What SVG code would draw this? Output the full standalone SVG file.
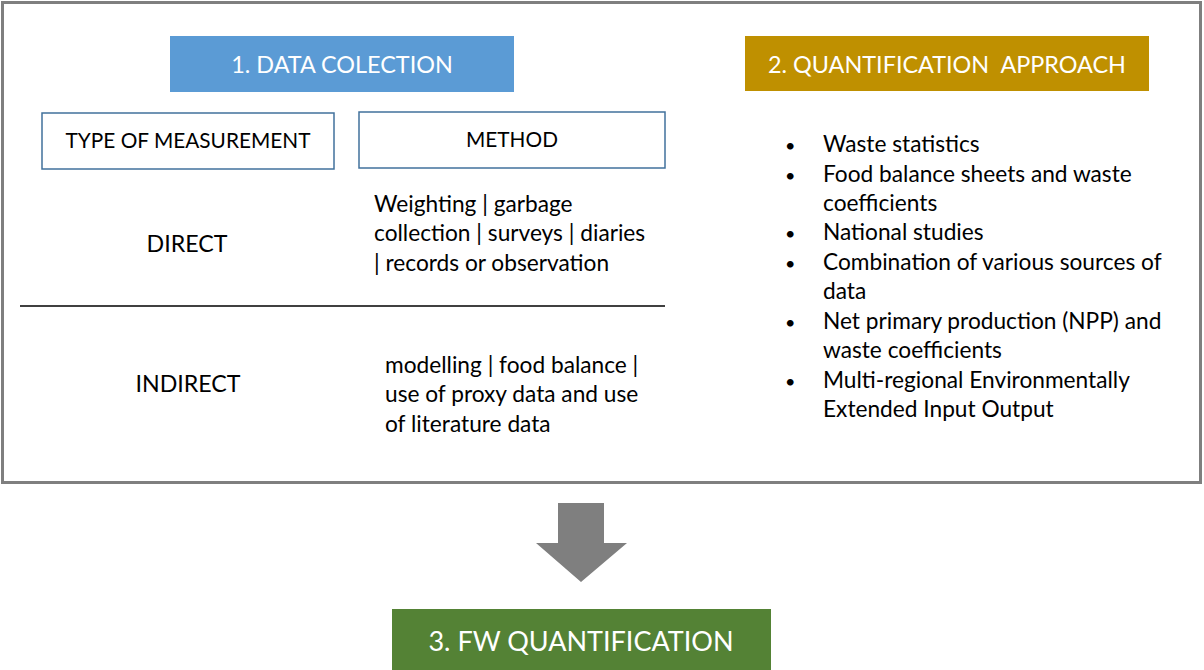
<svg xmlns="http://www.w3.org/2000/svg" width="1204" height="670" viewBox="0 0 1204 670">
<style>
text{font-family:Lato,"Liberation Sans",sans-serif;fill:#000}
.hdr{fill:#fff;font-size:23.4px;text-anchor:middle}
.col{font-size:20.8px;text-anchor:middle}
.big{font-size:23.2px;text-anchor:middle}
.body{font-size:22.7px}
.bul{font-size:18px}
.colbox{fill:#fff;stroke:#41719c;stroke-width:1.5}
</style>
<rect x="0" y="0" width="1204" height="670" fill="#fff"/>
<g id="frame"><rect x="2.5" y="2.5" width="1198" height="480" fill="#fff" stroke="#7f7f7f" stroke-width="3"/></g>
<g id="data-collection">
<rect x="170" y="36" width="344" height="56" fill="#5b9bd5"/>
<text class="hdr" x="342" y="73">1. DATA COLECTION</text>
</g>
<g id="type-of-measurement">
<rect class="colbox" x="42" y="113" width="292" height="56"/>
<text class="col" x="188" y="148">TYPE OF MEASUREMENT</text>
</g>
<g id="method">
<rect class="colbox" x="359" y="112" width="306" height="56"/>
<text class="col" x="512" y="147">METHOD</text>
</g>
<g id="direct">
<text class="big" x="187" y="252">DIRECT</text>
<text class="body" x="374"><tspan x="374" y="212">Weighting | garbage</tspan><tspan x="374" y="241">collection | surveys | diaries</tspan><tspan x="374" y="271">| records or observation</tspan></text>
</g>
<g id="divider"><line x1="20" y1="306" x2="665" y2="306" stroke="#000" stroke-width="1.5"/></g>
<g id="indirect">
<text class="big" x="188" y="392">INDIRECT</text>
<text class="body" x="385"><tspan x="385" y="373">modelling | food balance |</tspan><tspan x="385" y="402">use of proxy data and use</tspan><tspan x="385" y="432">of literature data</tspan></text>
</g>
<g id="quantification-approach">
<rect x="745" y="36" width="404" height="55" fill="#bf9000"/>
<text class="hdr" x="947" y="73" xml:space="preserve">2. QUANTIFICATION  APPROACH</text>
</g>
<g id="approach-list">
<text class="bul" x="785" y="152">•</text><text class="body" x="823" y="152">Waste statistics</text>
<text class="bul" x="785" y="182">•</text><text class="body" x="823" y="182">Food balance sheets and waste</text>
<text class="body" x="823" y="211">coefficients</text>
<text class="bul" x="785" y="240">•</text><text class="body" x="823" y="240">National studies</text>
<text class="bul" x="785" y="270">•</text><text class="body" x="823" y="270">Combination of various sources of</text>
<text class="body" x="823" y="299">data</text>
<text class="bul" x="785" y="329">•</text><text class="body" x="823" y="329">Net primary production (NPP) and</text>
<text class="body" x="823" y="358">waste coefficients</text>
<text class="bul" x="785" y="388">•</text><text class="body" x="823" y="388">Multi-regional Environmentally</text>
<text class="body" x="823" y="417">Extended Input Output</text>
</g>
<g id="connectors">
<polygon points="558,503 604,503 604,543 627,543 581,582 536,543 558,543" fill="#7f7f7f"/>
</g>
<g id="fw-quantification">
<rect x="392" y="609" width="379" height="61" fill="#548235"/>
<text class="hdr" x="581" y="651" style="font-size:27px">3. FW QUANTIFICATION</text>
</g>
</svg>
